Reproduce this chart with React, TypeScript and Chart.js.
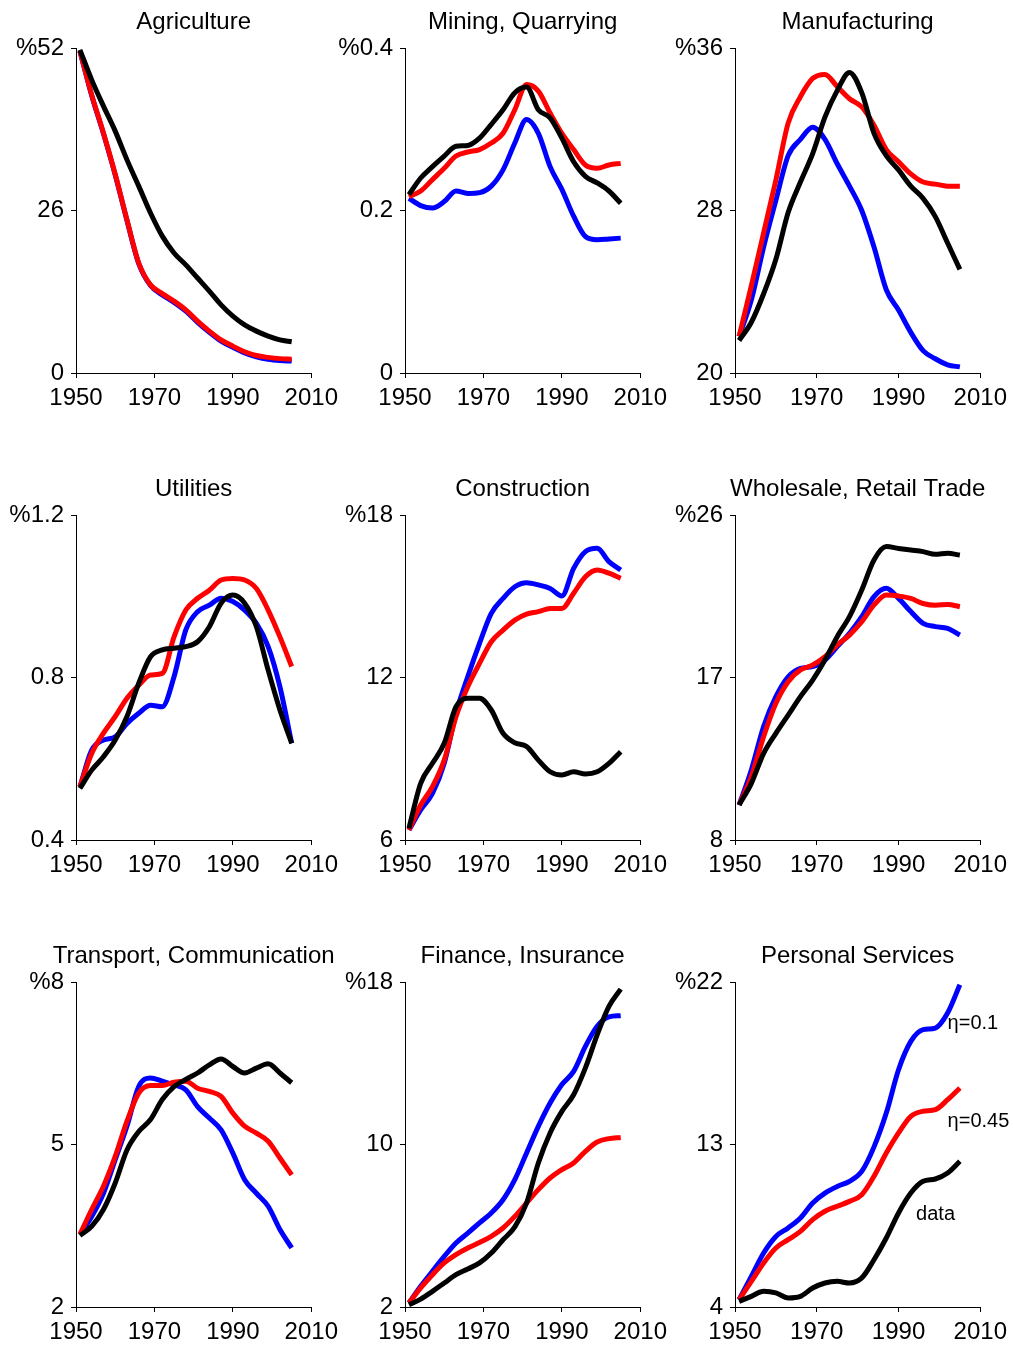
import React, { useEffect, useRef } from "react";
import { Chart, registerables } from "chart.js";

Chart.register(...registerables);

// ---------- data ----------
const YEARS = [1951, 1954, 1957, 1960, 1963, 1966, 1969, 1972, 1975, 1978, 1981, 1984, 1987, 1990, 1993, 1996, 1999, 2002, 2005];
const X_TICKS = [1950, 1970, 1990, 2010];

const TITLES = [
  "Agriculture",
  "Mining, Quarrying",
  "Manufacturing",
  "Utilities",
  "Construction",
  "Wholesale, Retail Trade",
  "Transport, Communication",
  "Finance, Insurance",
  "Personal Services",
];

const Y_MIN = [0, 0, 20, 0.4, 6, 8, 2, 2, 4];
const Y_MAX = [52, 0.4, 36, 1.2, 18, 26, 8, 18, 22];
const Y_TICK_LABELS = [
  ["0", "26", "%52"],
  ["0", "0.2", "%0.4"],
  ["20", "28", "%36"],
  ["0.4", "0.8", "%1.2"],
  ["6", "12", "%18"],
  ["8", "17", "%26"],
  ["2", "5", "%8"],
  ["2", "10", "%18"],
  ["4", "13", "%22"],
];

const AGRI_BLUE = [51.5, 44.4, 38.3, 31.7, 24.4, 17.5, 14.0, 12.5, 11.3, 9.9, 8.1, 6.5, 5.1, 4.1, 3.2, 2.6, 2.2, 2.0, 1.9];
const AGRI_RED = [51.5, 44.5, 38.4, 31.8, 24.5, 17.6, 14.1, 12.7, 11.5, 10.1, 8.3, 6.7, 5.3, 4.3, 3.4, 2.8, 2.5, 2.3, 2.2];
const AGRI_DATA = [51.7, 46.9, 42.7, 38.7, 34.1, 29.9, 25.6, 21.9, 19.2, 17.3, 15.2, 13.1, 10.9, 9.1, 7.7, 6.7, 5.9, 5.3, 5.0];

const MINING_BLUE = [0.215, 0.206, 0.203, 0.211, 0.224, 0.221, 0.222, 0.230, 0.250, 0.283, 0.312, 0.295, 0.254, 0.226, 0.193, 0.168, 0.164, 0.165, 0.166];
const MINING_RED = [0.217, 0.224, 0.238, 0.252, 0.267, 0.272, 0.275, 0.283, 0.295, 0.324, 0.355, 0.347, 0.320, 0.295, 0.275, 0.256, 0.252, 0.256, 0.258];
const MINING_DATA = [0.2195, 0.24, 0.254, 0.267, 0.279, 0.280, 0.289, 0.306, 0.324, 0.345, 0.352, 0.324, 0.314, 0.289, 0.260, 0.242, 0.234, 0.224, 0.209];

const MANU_BLUE = [21.8, 23.6, 26.2, 28.5, 30.7, 31.5, 32.1, 31.5, 30.3, 29.2, 28.0, 26.2, 24.1, 23.1, 22.0, 21.1, 20.7, 20.4, 20.3];
const MANU_RED = [21.8, 24.3, 26.9, 29.5, 32.3, 33.6, 34.5, 34.7, 34.1, 33.5, 33.1, 32.2, 31.0, 30.4, 29.8, 29.4, 29.3, 29.2, 29.2];
const MANU_DATA = [21.6, 22.5, 23.9, 25.6, 27.9, 29.4, 30.8, 32.6, 33.9, 34.8, 33.8, 31.8, 30.7, 30.0, 29.2, 28.6, 27.7, 26.4, 25.1];

const UTIL_BLUE = [0.531, 0.621, 0.646, 0.654, 0.687, 0.712, 0.732, 0.728, 0.802, 0.917, 0.962, 0.978, 0.995, 0.987, 0.966, 0.933, 0.876, 0.777, 0.638];
const UTIL_RED = [0.531, 0.613, 0.663, 0.704, 0.749, 0.781, 0.806, 0.810, 0.900, 0.966, 0.995, 1.015, 1.040, 1.044, 1.040, 1.019, 0.966, 0.900, 0.827];
const UTIL_DATA = [0.527, 0.572, 0.605, 0.646, 0.704, 0.786, 0.851, 0.868, 0.872, 0.876, 0.888, 0.925, 0.983, 1.003, 0.983, 0.925, 0.818, 0.720, 0.638];

const CONS_BLUE = [6.37, 7.11, 7.72, 8.83, 10.68, 12.03, 13.26, 14.37, 14.92, 15.35, 15.50, 15.42, 15.29, 15.01, 16.03, 16.65, 16.77, 16.28, 15.97];
const CONS_RED = [6.37, 7.29, 7.97, 8.95, 10.55, 11.66, 12.52, 13.32, 13.75, 14.12, 14.34, 14.43, 14.55, 14.55, 15.11, 15.72, 15.97, 15.85, 15.66];
const CONS_DATA = [6.43, 8.09, 8.83, 9.57, 10.92, 11.23, 11.23, 10.80, 9.94, 9.59, 9.45, 8.95, 8.52, 8.40, 8.52, 8.44, 8.52, 8.83, 9.26];

const WHOLE_BLUE = [9.94, 11.88, 14.28, 15.94, 17.04, 17.51, 17.60, 17.97, 18.71, 19.45, 20.37, 21.48, 21.94, 21.38, 20.65, 20.00, 19.82, 19.72, 19.35];
const WHOLE_RED = [9.94, 11.51, 13.72, 15.57, 16.77, 17.42, 17.69, 18.15, 18.80, 19.35, 20.09, 21.02, 21.57, 21.51, 21.38, 21.10, 21.00, 21.05, 20.92];
const WHOLE_DATA = [9.94, 11.14, 12.80, 13.91, 14.92, 15.94, 16.86, 17.97, 19.26, 20.37, 21.85, 23.51, 24.25, 24.15, 24.06, 23.97, 23.82, 23.88, 23.78];

const TRANS_BLUE = [3.34, 3.67, 4.10, 4.72, 5.34, 6.07, 6.23, 6.17, 6.10, 6.01, 5.70, 5.49, 5.27, 4.84, 4.35, 4.10, 3.86, 3.43, 3.09];
const TRANS_RED = [3.34, 3.80, 4.23, 4.78, 5.43, 5.95, 6.09, 6.09, 6.15, 6.17, 6.04, 5.98, 5.89, 5.58, 5.34, 5.21, 5.06, 4.75, 4.44];
const TRANS_DATA = [3.32, 3.49, 3.80, 4.29, 4.90, 5.24, 5.46, 5.83, 6.07, 6.20, 6.32, 6.47, 6.58, 6.44, 6.32, 6.41, 6.49, 6.32, 6.14];

const FIN_BLUE = [2.20, 3.02, 3.76, 4.49, 5.15, 5.64, 6.14, 6.63, 7.28, 8.27, 9.58, 10.89, 12.04, 12.95, 13.60, 14.83, 15.82, 16.28, 16.34];
const FIN_RED = [2.20, 2.94, 3.59, 4.17, 4.58, 4.90, 5.18, 5.48, 5.89, 6.46, 7.12, 7.78, 8.35, 8.76, 9.09, 9.66, 10.12, 10.29, 10.35];
const FIN_DATA = [2.11, 2.39, 2.77, 3.18, 3.59, 3.87, 4.17, 4.66, 5.31, 5.94, 7.12, 9.09, 10.57, 11.63, 12.45, 13.77, 15.40, 16.80, 17.65];

const PERS_BLUE = [4.41, 5.70, 6.99, 7.91, 8.38, 8.93, 9.76, 10.31, 10.68, 10.96, 11.51, 12.87, 14.74, 17.14, 18.71, 19.36, 19.45, 20.28, 21.85];
const PERS_RED = [4.41, 5.42, 6.44, 7.27, 7.73, 8.19, 8.84, 9.30, 9.58, 9.85, 10.22, 11.24, 12.53, 13.64, 14.56, 14.84, 14.93, 15.48, 16.13];
const PERS_DATA = [4.31, 4.59, 4.87, 4.78, 4.50, 4.59, 5.05, 5.33, 5.42, 5.33, 5.61, 6.62, 7.82, 9.21, 10.31, 10.96, 11.09, 11.42, 12.07];

const BLUE_SERIES = [AGRI_BLUE, MINING_BLUE, MANU_BLUE, UTIL_BLUE, CONS_BLUE, WHOLE_BLUE, TRANS_BLUE, FIN_BLUE, PERS_BLUE];
const RED_SERIES = [AGRI_RED, MINING_RED, MANU_RED, UTIL_RED, CONS_RED, WHOLE_RED, TRANS_RED, FIN_RED, PERS_RED];
const DATA_SERIES = [AGRI_DATA, MINING_DATA, MANU_DATA, UTIL_DATA, CONS_DATA, WHOLE_DATA, TRANS_DATA, FIN_DATA, PERS_DATA];

// line labels in the last panel (text, anchor year, anchor value)
const LABEL_TEXTS = ["η=0.1", "η=0.45", "data"];
const LABEL_YEARS = [2002, 2002, 1994.3];
const LABEL_VALUES = [19.7, 14.25, 9.1];

// ---------- layout ----------
const PLOT_LEFT = [76, 405, 735];
const PLOT_RIGHT = [312, 641, 981];
const PLOT_TOP = [48, 515, 982];
const PLOT_H = 325;
const LEFT_SPACE = 76;
const TOP_SPACE = 48;
const RIGHT_SPACE = 32;
const BOTTOM_SPACE = 38;
const FONT_FAMILY = '"Liberation Sans", Arial, Helvetica, sans-serif';

const panelTextPlugin = {
  id: "panelText",
  afterDraw(chart: any, _args: any, opts: any) {
    const { ctx, chartArea } = chart;
    ctx.save();
    ctx.fillStyle = "#000";
    ctx.font = `24px ${FONT_FAMILY}`;
    ctx.textAlign = "center";
    ctx.textBaseline = "middle";
    ctx.fillText(opts.title, (chartArea.left + chartArea.right) / 2, chartArea.top - 26);
    if (opts.showLabels) {
      ctx.font = `20px ${FONT_FAMILY}`;
      ctx.textAlign = "left";
      const xs = chart.scales.x;
      const ys = chart.scales.y;
      LABEL_TEXTS.forEach((t, i) => {
        ctx.fillText(t, xs.getPixelForValue(LABEL_YEARS[i]), ys.getPixelForValue(LABEL_VALUES[i]));
      });
    }
    ctx.restore();
  },
};

function Panel({ index }: { index: number }) {
  const ref = useRef<HTMLCanvasElement | null>(null);
  const r = Math.floor(index / 3);
  const c = index % 3;
  const width = PLOT_RIGHT[c] - PLOT_LEFT[c] + LEFT_SPACE + RIGHT_SPACE;
  const height = PLOT_H + TOP_SPACE + BOTTOM_SPACE;

  useEffect(() => {
    if (!ref.current) return;
    const yMin = Y_MIN[index];
    const yMax = Y_MAX[index];
    const labels = Y_TICK_LABELS[index];
    const mk = (vals: number[], color: string) => ({
      data: YEARS.map((y, i) => ({ x: y, y: vals[i] })),
      borderColor: color,
      backgroundColor: color,
      borderWidth: 5,
      pointRadius: 0,
      pointHoverRadius: 0,
      cubicInterpolationMode: "monotone" as const,
      fill: false,
      clip: false as any,
      borderCapStyle: "butt" as const,
      borderJoinStyle: "round" as const,
    });
    const tickFont = { family: FONT_FAMILY, size: 24 };
    const chart = new Chart(ref.current, {
      type: "line",
      data: {
        datasets: [
          mk(DATA_SERIES[index], "#000000"),
          mk(RED_SERIES[index], "#ff0000"),
          mk(BLUE_SERIES[index], "#0000ff"),
        ],
      },
      options: {
        responsive: false,
        animation: false,
        devicePixelRatio: 1,
        events: [],
        layout: { padding: { top: TOP_SPACE, right: RIGHT_SPACE, left: 0, bottom: 0 } },
        plugins: {
          legend: { display: false },
          tooltip: { enabled: false },
          title: { display: false },
          panelText: { title: TITLES[index], showLabels: index === 8 },
        } as any,
        scales: {
          x: {
            type: "linear",
            min: 1950,
            max: 2010,
            afterBuildTicks: (s: any) => {
              s.ticks = X_TICKS.map((v) => ({ value: v }));
            },
            afterFit: (s: any) => {
              s.height = BOTTOM_SPACE;
            },
            ticks: {
              callback: (v: any) => String(v),
              font: tickFont,
              color: "#000",
              padding: 6,
              maxRotation: 0,
              autoSkip: false,
            },
            grid: { drawOnChartArea: false, drawTicks: true, tickLength: 5, color: "#000", lineWidth: 1 },
            border: { display: true, color: "#000", width: 1 },
          },
          y: {
            type: "linear",
            min: yMin,
            max: yMax,
            afterBuildTicks: (s: any) => {
              s.ticks = [yMin, (yMin + yMax) / 2, yMax].map((v) => ({ value: v }));
            },
            afterFit: (s: any) => {
              s.width = LEFT_SPACE;
            },
            ticks: {
              callback: (_v: any, i: number) => labels[i],
              font: tickFont,
              color: "#000",
              padding: 7,
              autoSkip: false,
            },
            grid: { drawOnChartArea: false, drawTicks: true, tickLength: 5, color: "#000", lineWidth: 1 },
            border: { display: true, color: "#000", width: 1 },
          },
        },
      },
      plugins: [panelTextPlugin as any],
    });
    return () => chart.destroy();
  }, [index]);

  return (
    <canvas
      ref={ref}
      width={width}
      height={height}
      style={{
        position: "absolute",
        left: PLOT_LEFT[c] - LEFT_SPACE,
        top: PLOT_TOP[r] - TOP_SPACE,
        width,
        height,
      }}
    />
  );
}

export default function App() {
  useEffect(() => {
    document.body.style.margin = "0";
    document.body.style.background = "#fff";
  }, []);
  return (
    <div
      style={{
        position: "relative",
        width: 1013,
        height: 1346,
        overflow: "hidden",
        background: "#fff",
      }}
    >
      {TITLES.map((_, i) => (
        <Panel key={i} index={i} />
      ))}
    </div>
  );
}
